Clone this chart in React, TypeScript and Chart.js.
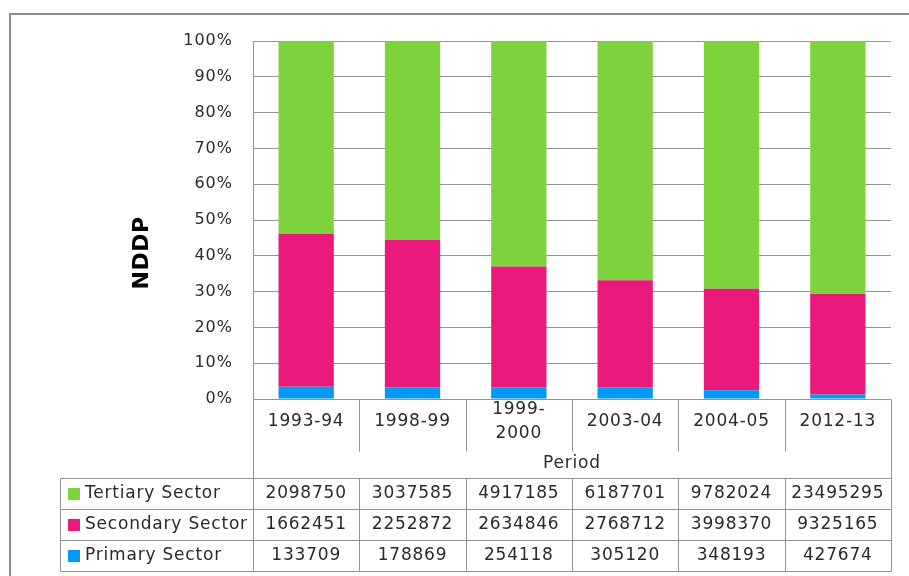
import React, { useEffect, useRef } from "react";
import { Chart, registerables } from "chart.js";

Chart.register(...registerables);

const categories = ["1993-94", "1998-99", "1999-2000", "2003-04", "2004-05", "2012-13"];
const categoryLabelLines = [["1993-94"], ["1998-99"], ["1999-", "2000"], ["2003-04"], ["2004-05"], ["2012-13"]];
const seriesNames = ["Tertiary Sector", "Secondary Sector", "Primary Sector"];
const tertiary = [2098750, 3037585, 4917185, 6187701, 9782024, 23495295];
const secondary = [1662451, 2252872, 2634846, 2768712, 3998370, 9325165];
const primary = [133709, 178869, 254118, 305120, 348193, 427674];
const yTicks = [0, 10, 20, 30, 40, 50, 60, 70, 80, 90, 100];
const axisTitle = "NDDP";
const xAxisTitle = "Period";

const COLORS = { tertiary: "#7ed23c", secondary: "#e91a7b", primary: "#0099f8" };
const FONT = "'DejaVu Sans', sans-serif";
const TEXT = "#2a2a2a";
const LINE = "#939393";

const totals = categories.map((_, i) => tertiary[i] + secondary[i] + primary[i]);
const pct = (arr: number[]) => arr.map((v, i) => (v / totals[i]) * 100);

export default function App() {
  const ref = useRef<HTMLCanvasElement | null>(null);

  useEffect(() => {
    document.body.style.margin = "0";
    const canvas = ref.current!;
    const tablePlugin = {
      id: "tablePlugin",
      beforeDraw(chart: any) {
        chart.ctx.letterSpacing = "1px";
      },
      afterDraw(chart: any) {
        const ctx = chart.ctx as CanvasRenderingContext2D;
        const { left, right, bottom } = chart.chartArea;
        const x = chart.scales.x;
        const centers = categories.map((_, i) => x.getPixelForValue(i));
        const bounds: number[] = [left];
        for (let i = 0; i < centers.length - 1; i++) bounds.push((centers[i] + centers[i + 1]) / 2);
        bounds.push(right);

        const tableLeft = 60;
        const labelRowBottom = 451;
        const dataTop = 478;
        const rowH = 31;
        const rowsBottom = dataTop + rowH * 3;

        ctx.save();
        ctx.letterSpacing = "0.8px";
        ctx.strokeStyle = LINE;
        ctx.lineWidth = 1;
        const line = (x1: number, y1: number, x2: number, y2: number) => {
          ctx.beginPath();
          ctx.moveTo(Math.round(x1) + 0.5, Math.round(y1) + 0.5);
          ctx.lineTo(Math.round(x2) + 0.5, Math.round(y2) + 0.5);
          ctx.stroke();
        };
        line(left, bottom, left, rowsBottom);
        line(right, bottom, right, rowsBottom);
        for (let i = 1; i < bounds.length - 1; i++) line(bounds[i], bottom, bounds[i], labelRowBottom);
        for (let r = 0; r <= 3; r++) line(tableLeft, dataTop + r * rowH, right, dataTop + r * rowH);
        line(tableLeft, dataTop, tableLeft, rowsBottom);
        for (let i = 1; i < bounds.length - 1; i++) line(bounds[i], dataTop, bounds[i], rowsBottom);

        ctx.fillStyle = TEXT;
        ctx.font = `17px ${FONT}`;
        ctx.textAlign = "center";
        ctx.textBaseline = "middle";
        categoryLabelLines.forEach((lines, i) => {
          if (lines.length === 1) ctx.fillText(lines[0], centers[i], 422);
          else lines.forEach((t, j) => ctx.fillText(t, centers[i], 410 + j * 24));
        });
        ctx.fillText(xAxisTitle, (left + right) / 2, 464);

        const rows = [
          { name: seriesNames[0], data: tertiary, color: COLORS.tertiary },
          { name: seriesNames[1], data: secondary, color: COLORS.secondary },
          { name: seriesNames[2], data: primary, color: COLORS.primary },
        ];
        rows.forEach((row, r) => {
          const cy = dataTop + r * rowH + rowH / 2;
          ctx.fillStyle = row.color;
          ctx.fillRect(68, Math.round(cy - 6), 12, 12);
          ctx.fillStyle = TEXT;
          ctx.textAlign = "left";
          ctx.fillText(row.name, 85, cy);
          ctx.textAlign = "center";
          row.data.forEach((v, i) => ctx.fillText(String(v), centers[i], cy));
        });

        ctx.save();
        ctx.translate(142, 253);
        ctx.rotate(-Math.PI / 2);
        ctx.font = `bold 22px ${FONT}`;
        ctx.fillStyle = "#000";
        ctx.letterSpacing = "0.5px";
        ctx.fillText(axisTitle, 0, 0);
        ctx.restore();

        ctx.strokeStyle = "#8a8a8a";
        ctx.lineWidth = 2;
        ctx.beginPath();
        ctx.moveTo(10, 576);
        ctx.lineTo(10, 14);
        ctx.lineTo(909, 14);
        ctx.stroke();
        ctx.restore();
      },
    };

    const chart = new Chart(canvas, {
      type: "bar",
      data: {
        labels: categories,
        datasets: [
          { label: seriesNames[2], data: pct(primary), backgroundColor: COLORS.primary },
          { label: seriesNames[1], data: pct(secondary), backgroundColor: COLORS.secondary },
          { label: seriesNames[0], data: pct(tertiary), backgroundColor: COLORS.tertiary },
        ],
      },
      options: {
        responsive: false,
        animation: false,
        devicePixelRatio: 1,
        layout: { padding: { top: 41, right: 18, bottom: 177, left: 0 } },
        plugins: { legend: { display: false }, tooltip: { enabled: false } },
        datasets: { bar: { barPercentage: 0.52, categoryPercentage: 1 } },
        scales: {
          x: { stacked: true, display: false },
          y: {
            stacked: true,
            min: 0,
            max: 100,
            afterFit(scale: any) {
              scale.width = 253;
            },
            afterBuildTicks(scale: any) {
              scale.ticks = yTicks.map((v) => ({ value: v }));
            },
            ticks: {
              padding: 20,
              color: TEXT,
              font: { family: FONT, size: 16 },
              callback: (v: any) => `${v}%`,
            },
            grid: { color: LINE, drawTicks: false, lineWidth: 1 },
            border: { display: true, color: LINE },
          },
        },
      },
      plugins: [tablePlugin],
    });
    return () => chart.destroy();
  }, []);

  return (
    <div style={{ position: "fixed", left: 0, top: 0, width: 909, height: 576, background: "#fff" }}>
      <canvas ref={ref} width={909} height={576} />
    </div>
  );
}
